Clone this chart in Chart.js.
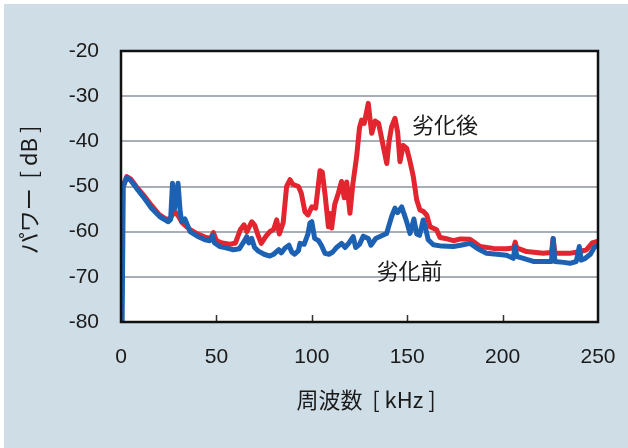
<!DOCTYPE html>
<html>
<head>
<meta charset="utf-8">
<script src="https://cdn.jsdelivr.net/npm/chart.js@4/dist/chart.umd.min.js"></script>
<style>
  html, body { margin: 0; padding: 0; background: #ffffff; }
  #wrap { position: relative; width: 628px; height: 448px; overflow: hidden; }
  #bg { position: absolute; left: 4px; top: 4px; width: 624px; height: 444px; background: #cedde6; }
  #c { position: absolute; left: 0; top: 0; }
</style>
</head>
<body>
<div id="wrap"><div id="bg"></div><canvas id="c" width="628" height="448"></canvas></div>
<script>
// ---- data ----
const xTicks = [0, 50, 100, 150, 200, 250];
const yTicks = [-80, -70, -60, -50, -40, -30, -20];
const xTitle = "周波数  [ kHz ]";
const yTitle = "パワー  [ dB ]";

// 劣化後 (after degradation) - red
const afterFreq = [1, 3, 5, 8, 12, 16, 20, 24, 26, 28, 30, 32, 36, 40, 44, 47, 48.4, 50, 53, 57, 60, 62.5, 64.5, 66, 68.5, 70, 72, 73.5, 76, 78, 80, 81.6, 83, 85, 86.8, 88.6, 90, 93, 94.5, 96.4, 98, 100, 102, 104.3, 105.5, 107, 108.7, 109.5, 110.4, 112, 113.9, 115.6, 117, 118.3, 120, 121.5, 123.5, 125, 126.1, 127.5, 129.6, 130.5, 131.4, 133.2, 135, 137.5, 139.3, 140.5, 141.8, 143.6, 145, 146.2, 147.9, 149.7, 151.5, 153.2, 155, 156.7, 158.4, 160.2, 162, 165.4, 167.2, 170, 174.2, 178, 182.9, 185, 188.2, 195.2, 202, 205.8, 206.6, 207.4, 212.6, 221.3, 225.6, 226.5, 227.4, 235, 240.6, 244, 247, 249.3, 250];
const afterDb = [-50, -47.8, -48.3, -50, -52, -54.2, -56.2, -57.3, -57, -55.5, -56.5, -58, -59.5, -60.5, -61.2, -61.5, -60.2, -62, -62.5, -62.8, -62.5, -59.6, -58.5, -60, -57.8, -58.5, -61, -62.6, -61, -60, -59.5, -57.4, -60.5, -58, -50, -48.5, -49.5, -50, -51.5, -55.6, -56.3, -54.5, -54.8, -46.5, -46.8, -52, -58.9, -56, -59.2, -54, -51.5, -48.9, -52.5, -49, -55.9, -49.5, -43.4, -37, -35.3, -36, -31.6, -35, -38.2, -35.5, -36, -41.2, -44.9, -40, -36.8, -34.9, -38, -44.5, -40.9, -41.5, -44.5, -47.8, -53, -55.2, -55.5, -56.3, -58.9, -59.6, -61.3, -61.5, -62, -61.6, -61.7, -62.3, -63.3, -63.7, -63.8, -63.6, -62.3, -63.6, -64.4, -64.8, -64.6, -61.5, -64.8, -64.8, -64.4, -64, -62.5, -62.2, -62.8];

// 劣化前 (before degradation) - blue
const beforeFreq = [0.6, 1.2, 3, 5, 8, 11.7, 16, 20.4, 24.8, 26, 27, 28, 29.9, 31, 31.8, 33.5, 36.2, 40, 44, 46.6, 48, 49, 51.9, 55, 58.9, 62, 64, 65.9, 67, 68.5, 70, 72, 75, 78, 80, 82.7, 84, 86, 88, 89.5, 91, 93, 93.8, 96, 98, 99, 100, 101.5, 103.5, 105, 106.9, 109, 111, 113, 115.6, 117.5, 119.5, 121.7, 123, 125, 127, 129.6, 131, 133.5, 136, 139.2, 141.8, 143.6, 145, 147.1, 149.5, 151.5, 153.5, 155, 156.5, 158.4, 159.5, 161, 163.7, 168, 174.2, 178, 183, 187, 191.6, 197, 202.1, 205.6, 206.5, 207.5, 210, 216.1, 222, 225.6, 226.5, 227.4, 232, 235.3, 238.6, 240.2, 241.2, 243, 246, 248, 250];
const beforeDb = [-80, -50, -48, -48.6, -50.3, -52.3, -54.8, -56.7, -57.8, -57.3, -49.3, -55, -49.3, -55.5, -57.8, -57.2, -60, -61, -61.8, -62, -60.8, -62.5, -63.3, -63.6, -64, -63.8, -62.5, -61.1, -62.5, -61.5, -63.5, -64.3, -65, -65.4, -65, -64, -64.7, -63.6, -63, -64.5, -65, -64.2, -62.6, -62.8, -60.5, -58.1, -57.8, -61.5, -62, -63, -64.8, -65, -64.5, -63.5, -62.6, -63.5, -62.5, -61.1, -63.5, -62.8, -61, -61.5, -63, -61.5, -61, -60.4, -56.7, -54.8, -55.8, -54.5, -57.5, -60.4, -57.2, -60.5, -60.8, -57.4, -59, -61.8, -62.9, -63.2, -63.3, -63, -62.6, -63.8, -64.8, -65, -65.2, -65.9, -63.3, -65.5, -65.8, -66.6, -66.6, -66.6, -61.5, -66.6, -66.8, -67, -66.6, -63.3, -66.3, -66, -65, -63.5, -63];

// annotation labels: [text, freq, dB]
const labelText = ["劣化後", "劣化前"];
const labelFreq = [169.8, 151.2];
const labelDb = [-36.2, -68.7];

// ---- chart ----
const toPts = (xs, ys) => xs.map((x, i) => ({ x: x, y: ys[i] }));
const FONT = "'Liberation Sans', Arial, 'Noto Sans CJK JP', sans-serif";
const CJK = "'Noto Sans CJK JP', 'Liberation Sans', sans-serif";

const framePlugin = {
  id: 'frame',
  beforeDraw(chart) {
    const { ctx, chartArea: a } = chart;
    ctx.save();
    ctx.fillStyle = '#ffffff';
    ctx.fillRect(a.left, a.top, a.right - a.left, a.bottom - a.top);
    ctx.restore();
  },
  afterDatasetsDraw(chart) {
    const { ctx, chartArea: a, scales } = chart;
    ctx.save();
    // inner tick marks on x axis
    ctx.strokeStyle = '#333333';
    ctx.lineWidth = 1.5;
    xTicks.forEach(v => {
      if (v === 0 || v === 250) return;
      const px = Math.round(scales.x.getPixelForValue(v)) + 0.5;
      ctx.beginPath();
      ctx.moveTo(px, a.bottom);
      ctx.lineTo(px, a.bottom - 7);
      ctx.stroke();
    });
    // frame
    ctx.strokeStyle = '#111111';
    ctx.lineWidth = 2.5;
    ctx.strokeRect(a.left, a.top, a.right - a.left, a.bottom - a.top);
    // annotation labels
    ctx.fillStyle = '#1a1a1a';
    ctx.font = "22px " + CJK;
    ctx.textAlign = 'center';
    ctx.textBaseline = 'middle';
    labelText.forEach((t, i) => {
      ctx.fillText(t, scales.x.getPixelForValue(labelFreq[i]), scales.y.getPixelForValue(labelDb[i]));
    });
    // axis titles
    ctx.font = "22px " + CJK;
    ctx.fillText(xTitle, 366, 400);
    ctx.translate(29, 190);
    ctx.rotate(-Math.PI / 2);
    ctx.fillText(yTitle, 0, 0);
    ctx.restore();
  }
};

new Chart(document.getElementById('c'), {
  type: 'line',
  data: {
    datasets: [
      { label: '劣化前', data: toPts(beforeFreq, beforeDb), borderColor: '#1c61b2', borderWidth: 5, pointRadius: 0, tension: 0, borderJoinStyle: 'round', borderCapStyle: 'round' },
      { label: '劣化後', data: toPts(afterFreq, afterDb), borderColor: '#e2252e', borderWidth: 5, pointRadius: 0, tension: 0, borderJoinStyle: 'round', borderCapStyle: 'round' }
    ]
  },
  options: {
    responsive: false,
    animation: false,
    devicePixelRatio: 1,
    layout: { padding: { left: 0, top: 51, right: 30, bottom: 0 } },
    plugins: { legend: { display: false }, tooltip: { enabled: false } },
    scales: {
      x: {
        type: 'linear', min: 0, max: 250,
        afterFit(s) { s.height = 126; s.paddingLeft = 0; s.paddingRight = 0; },
        afterBuildTicks(s) { s.ticks = xTicks.map(v => ({ value: v })); },
        ticks: { padding: 23, color: '#1a1a1a', font: { family: FONT, size: 21 }, maxRotation: 0 },
        grid: { display: false, drawTicks: false },
        border: { display: false }
      },
      y: {
        type: 'linear', min: -80, max: -20,
        afterFit(s) { s.width = 121; s.paddingTop = 0; s.paddingBottom = 0; },
        afterBuildTicks(s) { s.ticks = yTicks.map(v => ({ value: v })); },
        ticks: { padding: 22, color: '#1a1a1a', font: { family: FONT, size: 21 } },
        grid: { color: '#a7aeb6', lineWidth: 2, drawTicks: false },
        border: { display: false }
      }
    }
  },
  plugins: [framePlugin]
});
</script>
</body>
</html>
